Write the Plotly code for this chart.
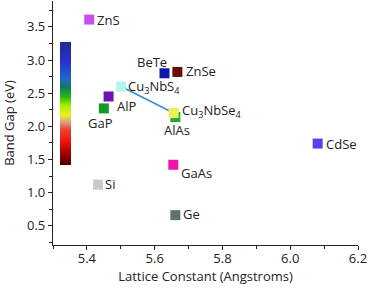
import plotly.graph_objects as go

materials = ["ZnS", "BeTe", "ZnSe", "Cu3NbS4", "AlP", "GaP", "AlAs", "Cu3NbSe4",
             "GaAs", "Si", "Ge", "CdSe"]
labels = ["ZnS", "BeTe", "ZnSe", "Cu<sub>3</sub>NbS<sub>4</sub>", "AlP", "GaP", "AlAs",
          "Cu<sub>3</sub>NbSe<sub>4</sub>", "GaAs", "Si", "Ge", "CdSe"]
lattice = [5.407, 5.629, 5.667, 5.501, 5.464, 5.450, 5.661, 5.656, 5.655, 5.433, 5.661, 6.081]
band_gap = [3.61, 2.80, 2.82, 2.60, 2.45, 2.27, 2.14, 2.20, 1.42, 1.12, 0.66, 1.74]
colors = ["#c64fe6", "#0f18a8", "#6b0b0b", "#b2f4f0", "#6a12b2", "#129a22", "#22aa33",
          "#eeee55", "#ee14aa", "#c6caca", "#617171", "#5542ee"]

# tie line between the two Cu3Nb compounds
tie_x = [5.501, 5.656]
tie_y = [2.60, 2.20]

# label offsets (pixels): xanchor, xshift, yshift
label_style = {
    "ZnS": ("left", 6, 0),
    "BeTe": ("right", 5, 11),
    "ZnSe": ("left", 7, 1),
    "Cu3NbS4": ("left", 5, 0),
    "AlP": ("left", 6, -10),
    "GaP": ("center", -3, -15),
    "AlAs": ("center", 2, -13),
    "Cu3NbSe4": ("left", 6, 2),
    "GaAs": ("left", 6, -8),
    "Si": ("left", 5, 1),
    "Ge": ("left", 6, 1),
    "CdSe": ("left", 6, 0),
}

# colorbar scale (bottom -> top)
cscale = [
    [0.0, "#4a0000"], [0.11, "#b00000"], [0.19, "#ee1111"], [0.29, "#ee4433"],
    [0.345, "#dd9a88"], [0.405, "#eeee22"], [0.485, "#a8ee00"], [0.555, "#22bb11"],
    [0.635, "#117766"], [0.70, "#2266cc"], [0.84, "#2233cc"], [1.0, "#262690"],
]

FONT = "Open Sans"
FS = 13

fig = go.Figure()
fig.add_trace(go.Scatter(x=tie_x, y=tie_y, mode="lines",
                         line=dict(color="#3a8ccf", width=1.6),
                         showlegend=False, hoverinfo="skip"))
fig.add_trace(go.Scatter(
    x=lattice, y=band_gap, mode="markers",
    marker=dict(symbol="square", size=10, color=colors, line=dict(width=0)),
    showlegend=False, text=materials,
))
# colour scale bar
fig.add_trace(go.Scatter(
    x=[None], y=[None], mode="markers", showlegend=False, hoverinfo="skip",
    marker=dict(color=[0], cmin=0, cmax=1, colorscale=cscale, showscale=True,
                colorbar=dict(x=0.023, xanchor="left", y=0.58, yanchor="middle",
                              len=0.505, lenmode="fraction", thickness=11,
                              outlinewidth=0, xpad=0, ypad=0,
                              showticklabels=False, ticks="")),
))

for m, lab, x, y in zip(materials, labels, lattice, band_gap):
    xa, xs, ys = label_style[m]
    fig.add_annotation(x=x, y=y, text=lab, showarrow=False, xanchor=xa,
                       yanchor="middle", xshift=xs, yshift=ys,
                       font=dict(family=FONT, size=FS, color="#222222"))

axis_common = dict(showline=True, linecolor="#222222", linewidth=1.2, ticks="outside",
                   ticklen=4, tickwidth=1.2, tickcolor="#222222", showgrid=False,
                   zeroline=False, mirror=False, automargin=False,
                   tickfont=dict(family=FONT, size=FS, color="#222222"),
                   title_font=dict(family=FONT, size=FS, color="#222222"))

fig.update_xaxes(range=[5.3, 6.2], tickvals=[5.4, 5.6, 5.8, 6.0, 6.2],
                 ticktext=["5.4", "5.6", "5.8", "6.0", "6.2"],
                 ticklabelstandoff=-3,
                 minor=dict(dtick=0.1, tick0=5.3, ticks="outside", ticklen=2.5,
                            tickcolor="#222222", tickwidth=1.2),
                 title=dict(text="Lattice Constant (Angstroms)", standoff=3),
                 **axis_common)
fig.update_yaxes(range=[0.21, 3.89], tickvals=[0.5, 1.0, 1.5, 2.0, 2.5, 3.0, 3.5],
                 ticktext=["0.5", "1.0", "1.5", "2.0", "2.5", "3.0", "3.5"],
                 minor=dict(dtick=0.25, tick0=0.25, ticks="outside", ticklen=2.5,
                            tickcolor="#222222", tickwidth=1.2),
                 title=dict(text="Band Gap (eV)", standoff=10),
                 **axis_common)

fig.update_layout(width=369, height=298, margin=dict(l=53, r=11, t=1, b=53),
                  plot_bgcolor="white", paper_bgcolor="white",
                  font=dict(family=FONT, size=FS, color="#222222"))

fig.write_html("out.html", config={"displayModeBar": False},
               post_script="document.body.style.margin='0px';document.body.style.padding='0px';")
